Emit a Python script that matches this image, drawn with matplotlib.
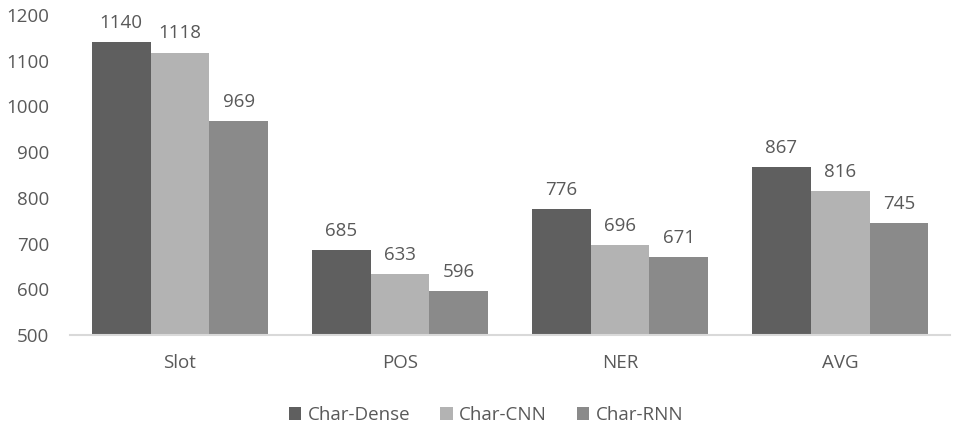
import numpy as np
import matplotlib

matplotlib.use("Agg")
import matplotlib.pyplot as plt

CATEGORIES = ["Slot", "POS", "NER", "AVG"]
SERIES = ["Char-Dense", "Char-CNN", "Char-RNN"]
CHAR_DENSE = [1140, 685, 776, 867]
CHAR_CNN = [1118, 633, 696, 816]
CHAR_RNN = [969, 596, 671, 745]
COLORS = ["#5f5f5f", "#b3b3b3", "#8a8a8a"]
INK = "#595959"
AXIS_COLOR = "#d9d9d9"
FS = 13.5

plt.rcParams["font.family"] = ["Open Sans", "DejaVu Sans"]

fig = plt.figure(figsize=(9.57, 4.29), dpi=100)
ax = fig.add_axes([0.073, 0.219, 0.92, 0.746])

x = np.arange(len(CATEGORIES))
width = 0.8 / 3
for i, (name, vals, color) in enumerate(zip(SERIES, [CHAR_DENSE, CHAR_CNN, CHAR_RNN], COLORS)):
    pos = x + (i - 1) * width
    ax.bar(pos, vals, width, color=color, label=name, zorder=2)
    for px, v in zip(pos, vals):
        ax.text(px, v + 22, f"{v}", ha="center", va="bottom", fontsize=FS, color=INK)

ax.set_ylim(500, 1200)
ax.set_xlim(-0.5, len(CATEGORIES) - 0.5)
ax.set_yticks(range(500, 1201, 100))
ax.set_xticks(x)
ax.set_xticklabels(CATEGORIES)
ax.tick_params(axis="both", length=0, labelsize=FS, colors=INK)
ax.tick_params(axis="x", pad=14)
ax.tick_params(axis="y", pad=15)
for side in ["top", "right", "left"]:
    ax.spines[side].set_visible(False)
ax.spines["bottom"].set_color(AXIS_COLOR)
ax.spines["bottom"].set_linewidth(1.5)

ax.legend(loc="center", bbox_to_anchor=(0.473, -0.25),
          ncol=3, frameon=False, fontsize=FS, handlelength=0.65, handleheight=0.65,
          handletextpad=0.35, columnspacing=1.6, labelcolor=INK)

fig.savefig("out.png", dpi=100)
